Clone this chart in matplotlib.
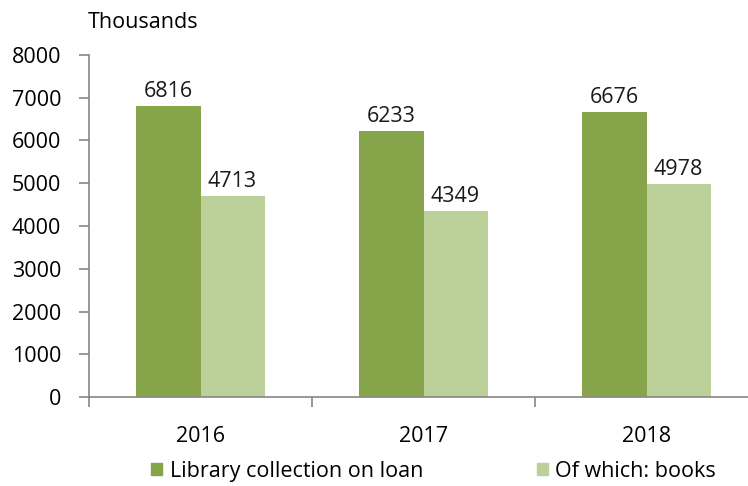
import numpy as np
import matplotlib.pyplot as plt
from matplotlib.patches import Patch

plt.rcParams['font.family'] = ['Open Sans', 'DejaVu Sans']

years = ['2016', '2017', '2018']
on_loan = [6816, 6233, 6676]
books = [4713, 4349, 4978]

dark = '#86a44a'
light = '#bbd199'
axis_col = '#868686'
fs = 15.5

fig = plt.figure(figsize=(7.48, 4.86), dpi=100)
ax = fig.add_axes([89 / 748, 1 - 397 / 486, (758 - 89) / 748, (397 - 55) / 486])

x = np.arange(len(years))
w = 0.287
b1 = ax.bar(x - w / 2, on_loan, w, color=dark)
b2 = ax.bar(x + w / 2, books, w, color=light)

for bars, vals in [(b1, on_loan), (b2, books)]:
    for r, v in zip(bars, vals):
        ax.text(r.get_x() + r.get_width() / 2, v + 90, str(v),
                ha='center', va='bottom', fontsize=fs, color='#1a1a1a')

ax.set_xlim(-0.5, 2.5)
ax.set_ylim(0, 8000)
ax.set_yticks(range(0, 8001, 1000))
ax.set_xticks([-0.5, 0.5, 1.5, 2.5])
ax.set_xticklabels([])
ax.set_xticks(x, minor=True)
ax.set_xticklabels(years, minor=True)
ax.tick_params(axis='x', which='minor', length=0, pad=21, labelsize=fs)
ax.tick_params(axis='x', which='major', length=7, color=axis_col, width=1.2)
ax.tick_params(axis='y', length=7, color=axis_col, width=1.2, labelsize=fs, pad=13)

for s in ['top', 'right']:
    ax.spines[s].set_visible(False)
for s in ['left', 'bottom']:
    ax.spines[s].set_color(axis_col)
    ax.spines[s].set_linewidth(1.2)

fig.text(88 / 748, 1 - 22 / 486, 'Thousands', ha='left', va='center', fontsize=fs)

handles = [Patch(color=dark), Patch(color=light)]
fig.legend(handles, ['Library collection on loan', 'Of which: books'],
           loc='center', bbox_to_anchor=(0.580, 1 - 471 / 486), ncol=2,
           frameon=False, fontsize=fs, handlelength=0.5, handleheight=0.5,
           handletextpad=0.35, columnspacing=5.3, borderpad=0)

fig.savefig('out.png', dpi=100)
